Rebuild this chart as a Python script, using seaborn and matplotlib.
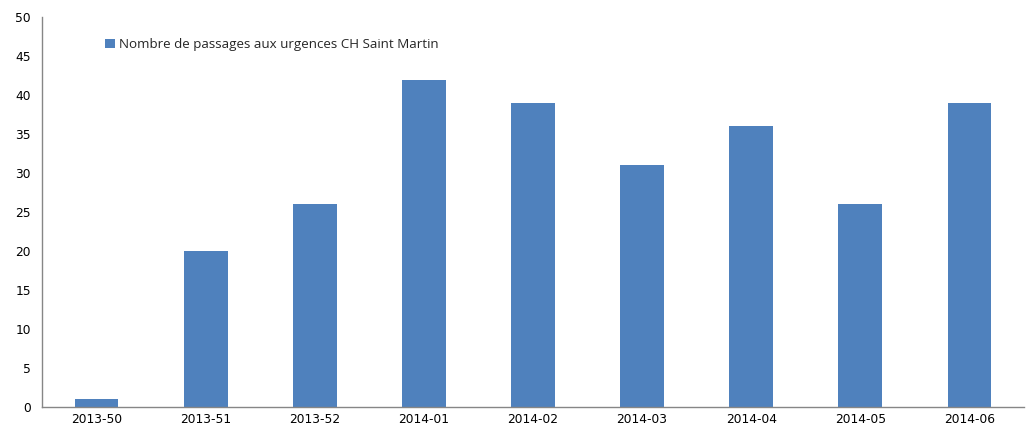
import numpy as np
import pandas as pd
import matplotlib
matplotlib.use("Agg")
import matplotlib.pyplot as plt
import seaborn as sns
from matplotlib.ticker import MultipleLocator, FixedLocator

# Weekly data
WEEKS = ['2013-50', '2013-51', '2013-52', '2014-01', '2014-02',
         '2014-03', '2014-04', '2014-05', '2014-06']
PASSAGES = [1, 20, 26, 42, 39, 31, 36, 26, 39]
SERIES_NAME = 'Nombre de passages aux urgences CH Saint Martin'

BAR_COLOR = '#4F81BD'
AXIS_COLOR = '#868686'

sns.set_style('white')
plt.rcParams['font.family'] = ['DejaVu Sans']

df = pd.DataFrame({'semaine': WEEKS, 'passages': PASSAGES})

fig = plt.figure(figsize=(10.26, 4.28), dpi=100)
ax = fig.add_axes([0.041, 0.049, 0.957, 0.911])

sns.barplot(data=df, x='semaine', y='passages', color=BAR_COLOR,
            width=0.4, saturation=1, linewidth=0, ax=ax, label=SERIES_NAME)

ax.set_xlim(-0.5, len(WEEKS) - 0.5)
ax.set_ylim(0, 50)
ax.yaxis.set_major_locator(MultipleLocator(5))
ax.set_xlabel('')
ax.set_ylabel('')

# Excel style: tick marks between categories, labels centred
ax.xaxis.set_minor_locator(FixedLocator(np.arange(-0.5, len(WEEKS), 1.0)))
ax.tick_params(axis='x', which='major', length=0, pad=4, labelsize=8.8,
               labelcolor='black')
ax.tick_params(axis='x', which='minor', length=4, color=AXIS_COLOR, direction='out')
ax.tick_params(axis='y', which='major', length=4, color=AXIS_COLOR, direction='out',
               labelsize=8.8, labelcolor='black', pad=4)

for side in ['top', 'right']:
    ax.spines[side].set_visible(False)
for side in ['left', 'bottom']:
    ax.spines[side].set_color(AXIS_COLOR)
    ax.spines[side].set_linewidth(1)

ax.legend(loc='upper left', bbox_to_anchor=(0.059, 0.96), frameon=False,
          handlelength=0.75, handleheight=0.75,
          handletextpad=0.25, borderaxespad=0,
          prop={'family': ['Open Sans', 'DejaVu Sans'], 'size': 9.6})

fig.savefig('out.png', dpi=100)
